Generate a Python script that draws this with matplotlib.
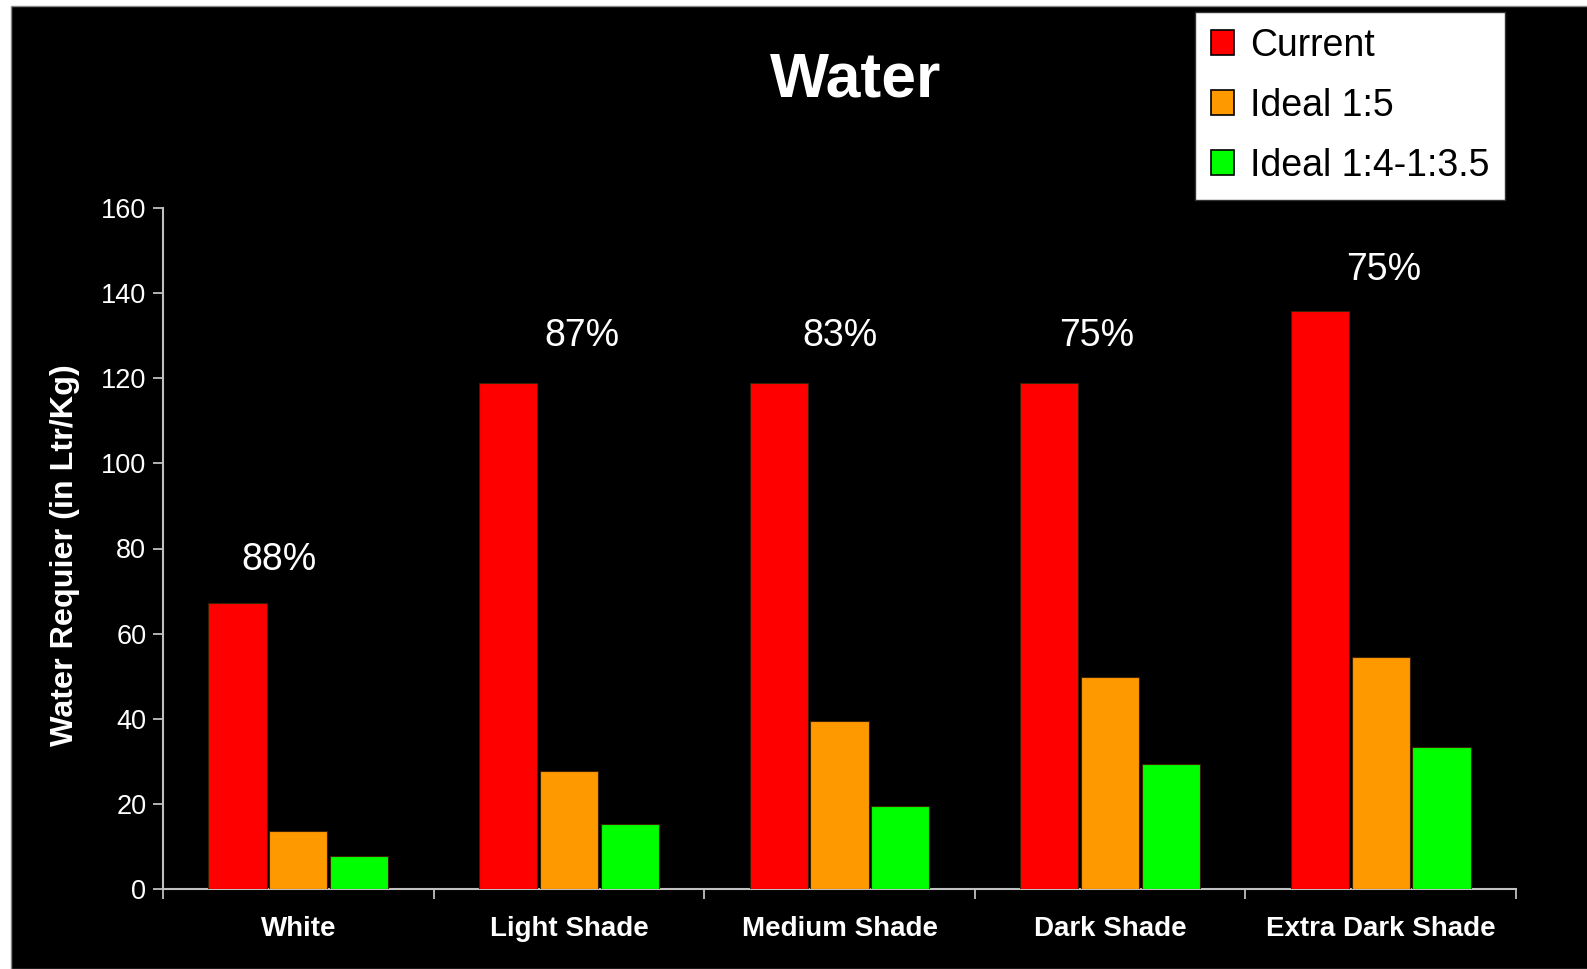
import numpy as np
import matplotlib
matplotlib.use('Agg')
from matplotlib import pyplot as plt
from matplotlib.patches import Rectangle

plt.rcParams['font.family'] = ['Liberation Sans', 'DejaVu Sans']

categories = ['White', 'Light Shade', 'Medium Shade', 'Dark Shade', 'Extra Dark Shade']
current = [67.3, 119, 119, 119, 135.7]
ideal_1_5 = [13.7, 27.7, 39.4, 49.8, 54.4]
ideal_1_4 = [7.7, 15.3, 19.4, 29.3, 33.4]
series_names = ['Current', 'Ideal 1:5', 'Ideal 1:4-1:3.5']
pct_labels = ['88%', '87%', '83%', '75%', '75%']
pct_y = [77.3, 130, 130, 130, 145.5]
pct_dx = [-0.07, 0.05, 0.0, -0.05, 0.01]

colors = ['#ff0000', '#ff9900', '#00ff00']

fig = plt.figure(figsize=(15.87, 9.69), dpi=100)
fig.patch.set_facecolor('white')
# black slide background, small white margin at left/top
fig.patches.append(Rectangle((11 / 1587, 0), 1, 1 - 6 / 969, transform=fig.transFigure,
                             facecolor='black', edgecolor='#888888', linewidth=1, zorder=-10))

ax = fig.add_axes([163 / 1587, 1 - 889 / 969, (1516 - 163) / 1587, (889 - 208) / 969])
ax.set_facecolor('none')

x = np.arange(len(categories))
width = 0.215
offsets = [-0.225, 0.0, 0.225]
for vals, off, col, name in zip([current, ideal_1_5, ideal_1_4], offsets, colors, series_names):
    ax.bar(x + off, vals, width, color=col, edgecolor='#3a2000', linewidth=0.8, label=name, zorder=3)

for xi, lab, yy, dx in zip(x, pct_labels, pct_y, pct_dx):
    ax.text(xi + dx, yy, lab, color='white', fontsize=27, ha='center', va='center')

ax.set_xlim(-0.5, len(categories) - 0.5)
ax.set_ylim(0, 160)
ax.set_yticks(np.arange(0, 161, 20))

ax.set_xticks(np.arange(-0.5, len(categories)), labels=[])
ax.set_xticks(x, labels=categories, minor=True)
ax.tick_params(axis='x', which='major', length=7, width=1.3, color='#c0c0c0', direction='out')
ax.tick_params(axis='x', which='minor', length=0, pad=19.5, labelsize=20, labelcolor='white')
for t in ax.get_xticklabels(minor=True):
    t.set_fontweight('bold')
ax.tick_params(axis='y', length=7, width=1.3, color='#c0c0c0', direction='out',
               labelsize=19.5, labelcolor='white', pad=5)

for s in ['top', 'right']:
    ax.spines[s].set_visible(False)
for s in ['left', 'bottom']:
    ax.spines[s].set_color('#c0c0c0')
    ax.spines[s].set_linewidth(1.5)

fig.text(65 / 1587, 1 - 555 / 969, 'Water Requier (in Ltr/Kg)', rotation=90, color='white',
         fontsize=23.3, fontweight='bold', ha='center', va='center')
fig.text(856 / 1587, 1 - 80 / 969, 'Water', color='white', fontsize=45, fontweight='bold',
         ha='center', va='center')

leg = ax.legend(loc='upper left', bbox_to_anchor=(1195 / 1587, 1 - 12 / 969),
                bbox_transform=fig.transFigure, borderaxespad=0, fontsize=27,
                handlelength=0.62, handleheight=0.62, handletextpad=0.42,
                labelspacing=0.64, borderpad=0.42, fancybox=False, framealpha=1,
                facecolor='white', edgecolor='#333333')
for h in leg.legend_handles:
    h.set_edgecolor('black')
    h.set_linewidth(1.2)

fig.savefig('out.png', dpi=100, facecolor=fig.get_facecolor())
